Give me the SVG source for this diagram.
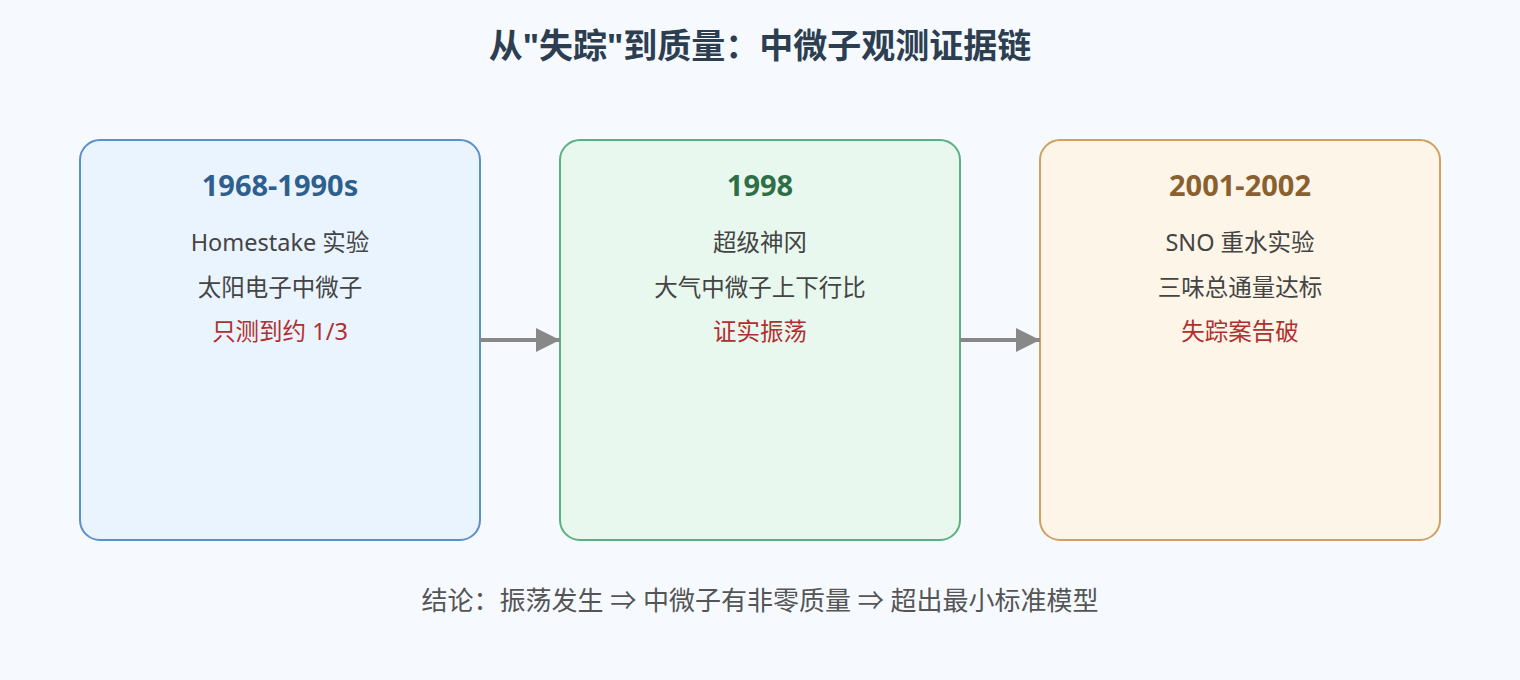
<svg xmlns="http://www.w3.org/2000/svg" width="1520" height="680" viewBox="0 0 1520 680">
<defs>
<style>
text{font-family:"Noto Sans","Noto Sans CJK SC",sans-serif;text-anchor:middle}
.t{font-size:34px;font-weight:bold;fill:#2c3e50}
.h{font-size:29px;font-weight:bold}
.b{font-size:23.5px;fill:#444}
.r{font-size:23.5px;fill:#b03030}
.c{stroke:#888;stroke-width:4;fill:none}
</style>
<marker id="a" viewBox="0 0 10 10" refX="10" refY="5" markerWidth="6" markerHeight="6" markerUnits="strokeWidth" orient="auto"><path d="M0,0L10,5L0,10z" fill="#888"/></marker>
</defs>
<rect width="1520" height="680" fill="#f6faff"/>
<text class="t" x="760" y="58">从"失踪"到质量：中微子观测证据链</text>
<g id="n1"><rect x="80" y="140" width="400" height="400" rx="20" fill="#eaf4fe" stroke="#5b8fc9" stroke-width="2"/>
<text class="h" x="280" y="196" fill="#2f5f8f">1968-1990s</text>
<text class="b" x="280" y="251">Homestake 实验</text><text class="b" x="280" y="296">太阳电子中微子</text><text class="r" x="280" y="340">只测到约 1/3</text></g>
<g id="n2"><rect x="560" y="140" width="400" height="400" rx="20" fill="#e8f8ee" stroke="#5bb07f" stroke-width="2"/>
<text class="h" x="760" y="196" fill="#2f6f47">1998</text>
<text class="b" x="760" y="251">超级神冈</text><text class="b" x="760" y="296">大气中微子上下行比</text><text class="r" x="760" y="340">证实振荡</text></g>
<g id="n3"><rect x="1040" y="140" width="400" height="400" rx="20" fill="#fdf5e8" stroke="#d0a060" stroke-width="2"/>
<text class="h" x="1240" y="196" fill="#8a6030">2001-2002</text>
<text class="b" x="1240" y="251">SNO 重水实验</text><text class="b" x="1240" y="296">三味总通量达标</text><text class="r" x="1240" y="340">失踪案告破</text></g>
<g id="connectors">
<line class="c" x1="480" y1="340" x2="560" y2="340" marker-end="url(#a)"/>
<line class="c" x1="960" y1="340" x2="1040" y2="340" marker-end="url(#a)"/>
</g>
<text class="b" x="760" y="610" style="font-size:26px;fill:#555">结论：振荡发生 ⇒ 中微子有非零质量 ⇒ 超出最小标准模型</text>
</svg>
